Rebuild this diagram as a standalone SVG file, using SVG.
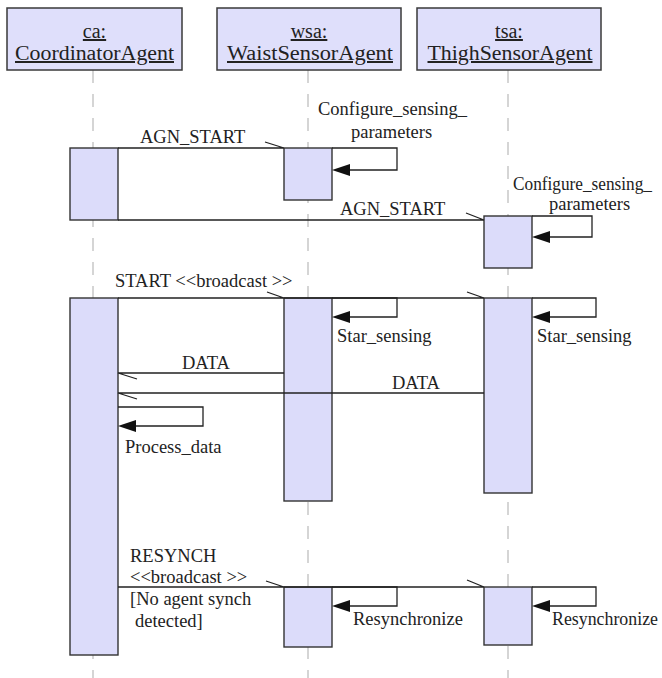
<svg xmlns="http://www.w3.org/2000/svg" width="662" height="678" viewBox="0 0 662 678">
  <style>
    .hdr { fill: #dfdffb; stroke: #3a3a3a; stroke-width: 1.5; }
    .bar { fill: #dcdcfa; stroke: #333; stroke-width: 1.4; }
    .life { stroke: #c8c8c8; stroke-width: 1.5; stroke-dasharray: 13 11; fill: none; }
    .msg { stroke: #222; stroke-width: 1.3; fill: none; }
    .head { fill: #111; stroke: none; }
    text { font-family: "Liberation Serif", "Times New Roman", serif; fill: #222; }
    .ttl { font-size: 20px; text-anchor: middle; text-decoration: underline; }
    .lbl { font-size: 18.5px; }
  </style>
  <defs>
    <polygon id="selfHead" points="0,0 18,-6 18,6" class="head"/>
  </defs>

  <!-- lifelines -->
  <g id="lifelines">
    <line class="life" x1="93" y1="70" x2="93" y2="678"/>
    <line class="life" x1="308" y1="70" x2="308" y2="678"/>
    <line class="life" x1="508" y1="70" x2="508" y2="678"/>
  </g>

  <!-- participants -->
  <g id="ca">
    <rect class="hdr" x="7" y="8" width="175" height="62"/>
    <text class="ttl" x="94.5" y="38">ca:</text>
    <text class="ttl" x="94.5" y="60" textLength="159" lengthAdjust="spacingAndGlyphs">CoordinatorAgent</text>
  </g>
  <g id="wsa">
    <rect class="hdr" x="217" y="8" width="184" height="62"/>
    <text class="ttl" x="309" y="38">wsa:</text>
    <text class="ttl" x="310" y="60" textLength="166" lengthAdjust="spacingAndGlyphs">WaistSensorAgent</text>
  </g>
  <g id="tsa">
    <rect class="hdr" x="417" y="8" width="184" height="62"/>
    <text class="ttl" x="509" y="38">tsa:</text>
    <text class="ttl" x="510" y="60" textLength="165" lengthAdjust="spacingAndGlyphs">ThighSensorAgent</text>
  </g>

  <!-- activation bars -->
  <g id="activations">
    <rect class="bar" x="70" y="148" width="48" height="72"/>
    <rect class="bar" x="70" y="298" width="48" height="357"/>
    <rect class="bar" x="284" y="148" width="48" height="52"/>
    <rect class="bar" x="284" y="298" width="48" height="203"/>
    <rect class="bar" x="284" y="587" width="48" height="60"/>
    <rect class="bar" x="484" y="216" width="48" height="52"/>
    <rect class="bar" x="484" y="298" width="48" height="195"/>
    <rect class="bar" x="484" y="587" width="48" height="58"/>
  </g>

  <!-- messages -->
  <g id="connectors">
    <!-- AGN_START to wsa -->
    <path class="msg" d="M118,148 H284 M265,142 L284,148"/>
    <!-- wsa configure self call -->
    <path class="msg" d="M332,148 H397 V170 H350"/>
    <use href="#selfHead" x="332" y="170"/>
    <!-- AGN_START to tsa -->
    <path class="msg" d="M118,220 H484 M466,213 L484,220"/>
    <!-- tsa configure self call -->
    <path class="msg" d="M532,216 H592 V237 H550"/>
    <use href="#selfHead" x="532" y="237"/>
    <!-- START broadcast -->
    <path class="msg" d="M118,298 H484 M267,292 L284,298 M467,292 L484,298"/>
    <!-- Star_sensing self calls -->
    <path class="msg" d="M332,298 H397 V317 H350"/>
    <use href="#selfHead" x="332" y="317"/>
    <path class="msg" d="M532,298 H596 V317 H550"/>
    <use href="#selfHead" x="532" y="317"/>
    <!-- DATA replies -->
    <path class="msg" d="M284,373 H118 L137,379"/>
    <path class="msg" d="M484,393 H118 L137,399"/>
    <!-- Process_data self call -->
    <path class="msg" d="M118,407 H203 V426 H136"/>
    <use href="#selfHead" x="118" y="426"/>
    <!-- RESYNCH broadcast -->
    <path class="msg" d="M118,587 H484 M266,581 L284,587 M467,580 L484,587"/>
    <!-- Resynchronize self calls -->
    <path class="msg" d="M332,587 H397 V606 H350"/>
    <use href="#selfHead" x="332" y="606"/>
    <path class="msg" d="M532,587 H596 V606 H550"/>
    <use href="#selfHead" x="532" y="606"/>
  </g>

  <!-- message labels -->
  <g id="labels">
    <text class="lbl" x="140" y="143">AGN_START</text>
    <text class="lbl" x="318" y="115">Configure_sensing_</text>
    <text class="lbl" x="351" y="138">parameters</text>
    <text class="lbl" x="340" y="215">AGN_START</text>
    <text class="lbl" x="513" y="190" textLength="139" lengthAdjust="spacingAndGlyphs">Configure_sensing_</text>
    <text class="lbl" x="549" y="210">parameters</text>
    <text class="lbl" x="115" y="287">START &lt;&lt;broadcast &gt;&gt;</text>
    <text class="lbl" x="337" y="342">Star_sensing</text>
    <text class="lbl" x="537" y="342">Star_sensing</text>
    <text class="lbl" x="182" y="369">DATA</text>
    <text class="lbl" x="392" y="389">DATA</text>
    <text class="lbl" x="125" y="453">Process_data</text>
    <text class="lbl" x="130" y="562">RESYNCH</text>
    <text class="lbl" x="130" y="583">&lt;&lt;broadcast &gt;&gt;</text>
    <text class="lbl" x="130" y="605">[No agent synch</text>
    <text class="lbl" x="135" y="627">detected]</text>
    <text class="lbl" x="353" y="625">Resynchronize</text>
    <text class="lbl" x="552" y="625" textLength="106" lengthAdjust="spacingAndGlyphs">Resynchronize</text>
  </g>
</svg>
